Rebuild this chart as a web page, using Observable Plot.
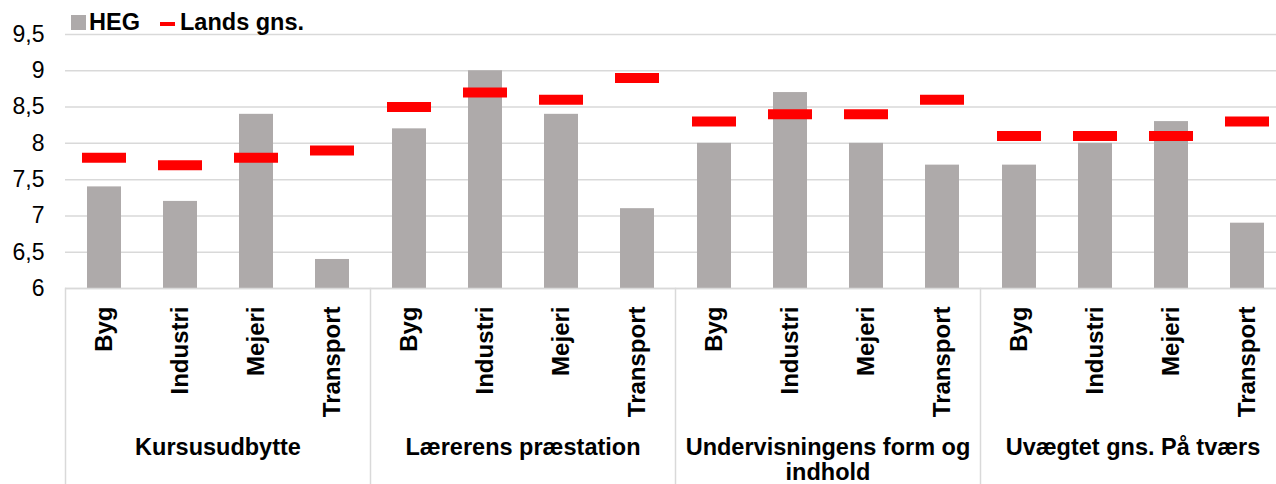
<!DOCTYPE html>
<html>
<head>
<meta charset="utf-8">
<script src="https://cdn.jsdelivr.net/npm/d3@7"></script>
<script src="https://cdn.jsdelivr.net/npm/@observablehq/plot@0.6"></script>
<style>
  html, body { margin: 0; padding: 0; background: #fff; overflow: hidden; }
  #wrap { position: relative; width: 1276px; height: 484px; overflow: hidden; font-family: "Liberation Sans", Arial, sans-serif; }
  #chart { width: 1286px; }
  #chart svg { max-width: none !important; }
  #legend { position: absolute; left: 0; top: 0; width: 400px; height: 34px; font-weight: bold; font-size: 23.5px; line-height: 1; color: #000; }
  #legend .sq { position: absolute; left: 71px; top: 15px; width: 15px; height: 15px; background: #aeaaaa; }
  #legend .t1 { position: absolute; left: 89px; top: 11px; }
  #legend .dash { position: absolute; left: 160px; top: 22px; width: 15px; height: 4px; background: #ff0000; }
  #legend .t2 { position: absolute; left: 180px; top: 11px; }
</style>
</head>
<body>
<div id="wrap">
  <div id="chart"></div>
  <div id="legend"><span class="sq"></span><span class="t1">HEG</span><span class="dash"></span><span class="t2">Lands gns.</span></div>
</div>
<script>
const groups = ["Kursusudbytte", "Lærerens præstation", "Undervisningens form og indhold", "Uvægtet gns. På tværs"];
const groupLabels = ["Kursusudbytte", "Lærerens præstation", "Undervisningens form og\nindhold", "Uvægtet gns. På tværs"];
const categories = ["Byg", "Industri", "Mejeri", "Transport"];
const hegKursus = [7.4, 7.2, 8.4, 6.4];
const hegLaerer = [8.2, 9.0, 8.4, 7.1];
const hegUnderv = [8.0, 8.7, 8.0, 7.7];
const hegUvaegt = [7.7, 8.0, 8.3, 6.9];
const landsKursus = [7.8, 7.7, 7.8, 7.9];
const landsLaerer = [8.5, 8.7, 8.6, 8.9];
const landsUnderv = [8.3, 8.4, 8.4, 8.6];
const landsUvaegt = [8.1, 8.1, 8.1, 8.3];
const yTicks = [6, 6.5, 7, 7.5, 8, 8.5, 9, 9.5];

const hegSeries = [hegKursus, hegLaerer, hegUnderv, hegUvaegt];
const landsSeries = [landsKursus, landsLaerer, landsUnderv, landsUvaegt];
const rows = [];
groups.forEach((g, gi) => categories.forEach((c, ci) => {
  rows.push({group: g, cat: c, heg: hegSeries[gi][ci], lands: landsSeries[gi][ci]});
}));

const fmt = d => String(d).replace(".", ",");
const labelOf = d => groupLabels[groups.indexOf(d)];

const chart = Plot.plot({
  width: 1286,
  height: 484,
  marginLeft: 64,
  marginRight: 0,
  marginTop: 34,
  marginBottom: 196,
  style: {fontFamily: "'Liberation Sans', Arial, sans-serif", color: "#000", background: "#fff", maxWidth: "none"},
  fx: {domain: groups, padding: 0, label: null},
  x: {domain: categories, padding: 0, label: null},
  y: {domain: [6, 9.5], ticks: yTicks, label: null},
  marks: [
    Plot.gridY(yTicks, {stroke: "#d9d9d9", strokeOpacity: 1, strokeWidth: 1.5}),
    Plot.frame({anchor: "left", stroke: "#d9d9d9", strokeOpacity: 1, strokeWidth: 1.5, insetTop: 254, insetBottom: -196}),
    Plot.barY(rows, {fx: "group", x: "cat", y1: 6, y2: "heg", fill: "#aeaaaa", insetLeft: 21, insetRight: 21}),
    Plot.ruleY([6], {stroke: "#d9d9d9", strokeWidth: 1.5}),
    Plot.tickY(rows, {fx: "group", x: "cat", y: "lands", stroke: "#ff0000", strokeWidth: 10, insetLeft: 16, insetRight: 16}),
    Plot.axisY(yTicks, {anchor: "left", tickSize: 0, tickPadding: 21, fontSize: 23, tickFormat: fmt}),
    Plot.axisX({anchor: "bottom", tickSize: 0, tickPadding: 18, tickRotate: -90, fontSize: 24, fontWeight: "bold", label: null}),
    Plot.axisFx({anchor: "bottom", tickSize: 0, tickPadding: 148, fontSize: 23.5, fontWeight: "bold", tickFormat: labelOf, label: null, lineHeight: 1.08})
  ]
});
document.getElementById("chart").appendChild(chart);
</script>
</body>
</html>
